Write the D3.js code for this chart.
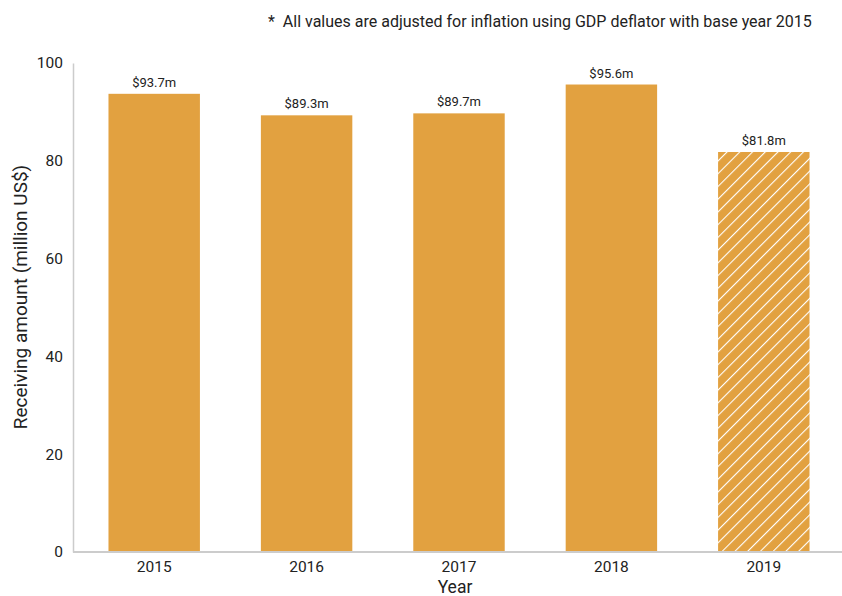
<!DOCTYPE html>
<html>
<head>
<meta charset="utf-8">
<script src="https://cdn.jsdelivr.net/npm/d3@7"></script>
<style>
  html, body { margin: 0; padding: 0; background: #fff; }
  text { font-family: Roboto, "Noto Sans", sans-serif; fill: #222; }
</style>
</head>
<body>
<svg id="chart" width="842" height="596"></svg>
<script>
// Receiving amounts by year (million US$, constant 2015 prices)
const years = ["2015", "2016", "2017", "2018", "2019"];
const amounts = [93.7, 89.3, 89.7, 95.6, 81.8];
const estimated = [false, false, false, false, true];
const yTicks = [0, 20, 40, 60, 80, 100];

const svg = d3.select("#chart");
const barColor = "#E2A140";

// Diagonal hatch for the estimated year
const defs = svg.append("defs");
const pat = defs.append("pattern")
  .attr("id", "hatch")
  .attr("patternUnits", "userSpaceOnUse")
  .attr("width", 9).attr("height", 9)
  .attr("patternTransform", "rotate(45)");
pat.append("rect").attr("width", 9).attr("height", 9).attr("fill", barColor);
pat.append("line")
  .attr("x1", 0).attr("y1", 0).attr("x2", 0).attr("y2", 9)
  .attr("stroke", "#fff").attr("stroke-width", 2.2);

const x = d3.scaleBand().domain(years).range([78, 840])
  .paddingInner(0.4).paddingOuter(0.2);
const y = d3.scaleLinear().domain([0, 100]).range([552, 63]);

// Bars
svg.append("g").selectAll("rect")
  .data(years)
  .join("rect")
  .attr("x", d => x(d))
  .attr("width", x.bandwidth())
  .attr("y", (d, i) => y(amounts[i]))
  .attr("height", (d, i) => y(0) - y(amounts[i]))
  .attr("fill", (d, i) => estimated[i] ? "url(#hatch)" : barColor);

// Value labels
svg.append("g").selectAll("text")
  .data(years)
  .join("text")
  .attr("x", d => x(d) + x.bandwidth() / 2)
  .attr("y", (d, i) => y(amounts[i]) - 7)
  .attr("text-anchor", "middle")
  .attr("font-size", 13)
  .text((d, i) => "$" + amounts[i].toFixed(1) + "m");

// Y axis
const yAxis = d3.axisLeft(y).tickValues(yTicks).tickSize(0).tickPadding(10);
const gy = svg.append("g").attr("transform", "translate(73,0)").call(yAxis);
gy.select(".domain").attr("stroke", "#cccccc").attr("stroke-width", 1.5);
gy.selectAll("text").attr("font-size", 15.5).attr("font-family", "Roboto, sans-serif").attr("fill", "#222");

// X axis
const xAxis = d3.axisBottom(x).tickSize(0).tickPadding(9);
const gx = svg.append("g").attr("transform", "translate(0,552)").call(xAxis);
gx.select(".domain").attr("d", "M73,0H842").attr("stroke", "#cccccc").attr("stroke-width", 2);
gx.selectAll("text").attr("font-size", 15.5).attr("font-family", "Roboto, sans-serif").attr("fill", "#222");

// Axis titles
svg.append("text")
  .attr("x", (x.range()[0] + x.range()[1]) / 2 - 4)
  .attr("y", 593)
  .attr("text-anchor", "middle")
  .attr("font-size", 17.5)
  .text("Year");

svg.append("text")
  .attr("transform", "translate(27,297) rotate(-90)")
  .attr("text-anchor", "middle")
  .attr("font-size", 19)
  .text("Receiving amount (million US$)");

// Footnote
svg.append("text")
  .attr("x", 268)
  .attr("y", 27)
  .attr("font-size", 16)
  .attr("xml:space", "preserve")
  .text("*  All values are adjusted for inflation using GDP deflator with base year 2015");
</script>
</body>
</html>
